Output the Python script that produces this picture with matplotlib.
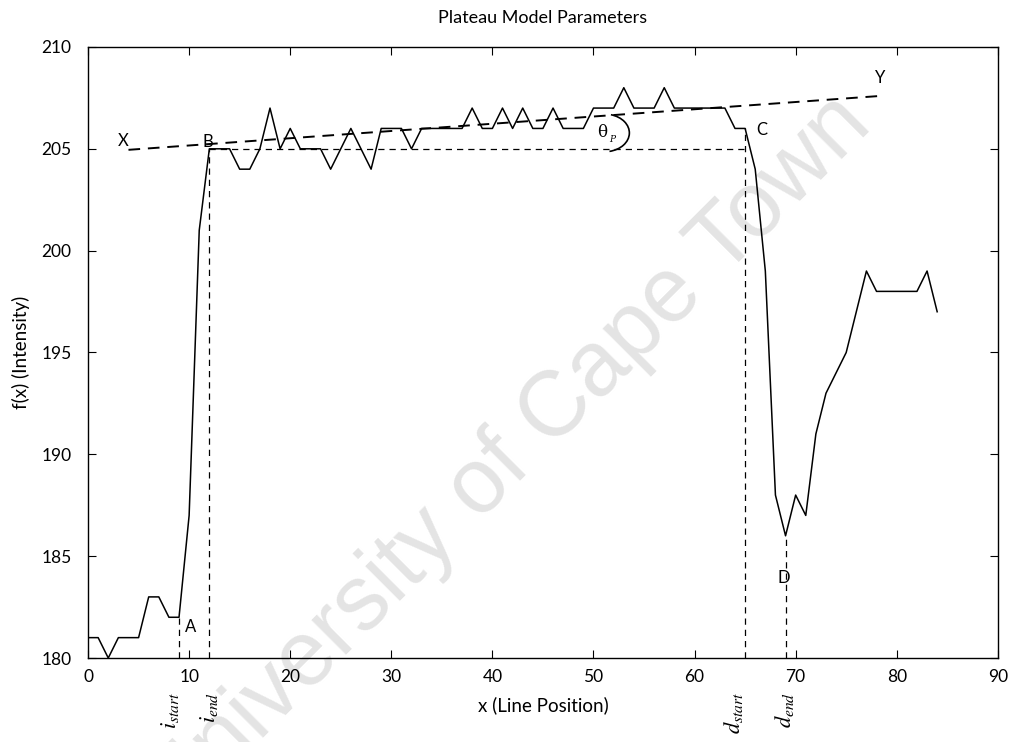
import numpy as np
import matplotlib
matplotlib.use("Agg")
import matplotlib.pyplot as plt
from matplotlib.patches import Arc

plt.rcParams['font.family'] = ['Lato', 'DejaVu Sans']
plt.rcParams['mathtext.fontset'] = 'stix'

# intensity profile along the line
x_pos = np.arange(0, 85)
intensity = [181, 181, 180, 181, 181, 181, 183, 183, 182, 182,
             187, 201, 205, 205, 205, 204, 204, 205, 207, 205,
             206, 205, 205, 205, 204, 205, 206, 205, 204, 206,
             206, 206, 205, 206, 206, 206, 206, 206, 207, 206,
             206, 207, 206, 207, 206, 206, 207, 206, 206, 206,
             207, 207, 207, 208, 207, 207, 207, 208, 207, 207,
             207, 207, 207, 207, 206, 206, 204, 199, 188, 186,
             188, 187, 191, 193, 194, 195, 197, 199, 198, 198,
             198, 198, 198, 199, 197]

# plateau fit line X-Y
fit_x = [4, 78.5]
fit_y = [204.95, 207.6]
base_y = 205

# model points
i_start, i_end = 9, 12
d_start, d_end = 65, 69
y_min = 180

point_labels = ['X', 'B', 'A', 'C', 'D', 'Y']
point_x = [3.5, 11.85, 10.1, 66.6, 68.8, 78.4]
point_y = [205.4, 205.35, 181.5, 205.9, 183.95, 208.5]

fig = plt.figure(figsize=(10.12, 7.42), dpi=100)
ax = fig.add_axes([0.087, 0.1132, 0.899, 0.8235])
ax.set_zorder(1)
ax.patch.set_alpha(0)

# watermark
fig.text(0.502, 0.381, 'University of Cape Town', fontsize=66, color='#e4e4e4',
         rotation=45, ha='center', va='center', zorder=0,
         family=['Liberation Sans', 'DejaVu Sans'])

ax.plot(x_pos, intensity, color='black', lw=1.1, zorder=3)

# dashed construction lines
ax.plot(fit_x, fit_y, color='black', lw=1.4, dashes=(6, 4))
ax.plot([i_end, d_start], [base_y, base_y], color='black', lw=0.9, dashes=(5, 4))
ax.plot([i_start, i_start], [y_min, intensity[i_start]], color='black', lw=0.9, dashes=(5, 4))
ax.plot([i_end, i_end], [y_min, intensity[i_end]], color='black', lw=0.9, dashes=(5, 4))
ax.plot([d_start, d_start], [y_min, intensity[d_start]], color='black', lw=0.9, dashes=(5, 4))
ax.plot([d_end, d_end], [y_min, intensity[d_end]], color='black', lw=0.9, dashes=(5, 4))

for lab, px, py in zip(point_labels, point_x, point_y):
    ax.text(px, py, lab, fontsize=12, ha='center', va='center')

# angle marker
ax.add_patch(Arc((51.1, 205.78), 4.9, 1.85, theta1=-62, theta2=55, color='black', lw=1.2))
ax.text(50.9, 205.82, '\u03b8', fontsize=12, ha='center', va='center',
        family=['DejaVu Serif'])
ax.text(51.8, 205.45, 'P', fontsize=6.5, ha='center', va='center',
        family=['DejaVu Serif'], style='italic')

ax.set_xlim(0, 90)
ax.set_ylim(180, 210)
ax.set_xticks(range(0, 91, 10))
ax.set_yticks(range(180, 211, 5))
ax.tick_params(direction='in', top=True, right=True, length=6, labelsize=12.5)
ax.tick_params(axis='y', pad=12)
ax.tick_params(axis='x', pad=8)
for s in ax.spines.values():
    s.set_linewidth(1.0)

ax.set_title('Plateau Model Parameters', fontsize=13, pad=17)
ax.set_xlabel('x (Line Position)', fontsize=13.5, labelpad=8)
ax.set_ylabel('f(x) (Intensity)', fontsize=13.5, labelpad=8)

# rotated labels for model points under the axis
marks = [r'$i_{start}$', r'$i_{end}$', r'$d_{start}$', r'$d_{end}$']
mark_x = [8.1, 12.0, 63.9, 68.9]
for m, mx in zip(marks, mark_x):
    ax.text(mx, -0.055, m, transform=ax.get_xaxis_transform(), rotation=90,
            fontsize=16, ha='center', va='top')

fig.savefig('out.png', dpi=100)
